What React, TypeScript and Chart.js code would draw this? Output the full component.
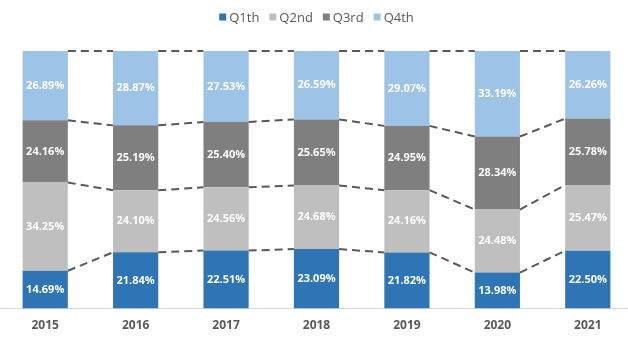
import React, { useEffect, useRef } from "react";
import { Chart, registerables } from "chart.js";

Chart.register(...registerables);

const years = ["2015", "2016", "2017", "2018", "2019", "2020", "2021"];
const q1 = [14.69, 21.84, 22.51, 23.09, 21.82, 13.98, 22.5];
const q2 = [34.25, 24.1, 24.56, 24.68, 24.16, 24.48, 25.47];
const q3 = [24.16, 25.19, 25.4, 25.65, 24.95, 28.34, 25.78];
const q4 = [26.89, 28.87, 27.53, 26.59, 29.07, 33.19, 26.26];
const seriesNames = ["Q1th", "Q2nd", "Q3rd", "Q4th"];
const seriesColors = ["#2E75B6", "#BFBFBF", "#7F7F7F", "#9DC3E6"];

const FONT = "'Open Sans', 'Noto Sans', sans-serif";

const connectorPlugin = {
  id: "connectors",
  afterDatasetsDraw(chart: any) {
    const ctx = chart.ctx;
    ctx.save();
    ctx.strokeStyle = "#595959";
    ctx.lineWidth = 2;
    ctx.setLineDash([8, 5]);
    chart.data.datasets.forEach((_ds: any, di: number) => {
      const meta = chart.getDatasetMeta(di);
      if (meta.hidden) return;
      for (let i = 0; i < meta.data.length - 1; i++) {
        const a = meta.data[i].getProps(["x", "y", "width"], true);
        const b = meta.data[i + 1].getProps(["x", "y", "width"], true);
        ctx.beginPath();
        ctx.moveTo(a.x + a.width / 2, a.y);
        ctx.lineTo(b.x - b.width / 2, b.y);
        ctx.stroke();
      }
    });
    ctx.restore();
  },
};

const labelPlugin = {
  id: "segLabels",
  afterDatasetsDraw(chart: any) {
    const ctx = chart.ctx;
    ctx.save();
    ctx.fillStyle = "#FFFFFF";
    ctx.font = `bold 11px ${FONT}`;
    ctx.textAlign = "center";
    ctx.textBaseline = "middle";
    chart.data.datasets.forEach((ds: any, di: number) => {
      const meta = chart.getDatasetMeta(di);
      if (meta.hidden) return;
      meta.data.forEach((el: any, i: number) => {
        const p = el.getProps(["x", "y", "base"], true);
        const v = ds.data[i] as number;
        ctx.fillText(v.toFixed(2) + "%", p.x, (p.y + p.base) / 2);
      });
    });
    ctx.restore();
  },
};

// Compact legend drawn at the top, centred over the plot area
const legendPlugin = {
  id: "compactLegend",
  afterDraw(chart: any) {
    const ctx = chart.ctx;
    const area = chart.chartArea;
    const box = 7;
    const boxGap = 3;
    const itemGap = 10;
    const cy = 17;
    ctx.save();
    ctx.font = `13px ${FONT}`;
    ctx.textBaseline = "middle";
    ctx.textAlign = "left";
    const items = chart.data.datasets.map((ds: any) => ({
      text: ds.label as string,
      color: ds.backgroundColor as string,
      w: ctx.measureText(ds.label).width,
    }));
    const total =
      items.reduce((s: number, it: any) => s + box + boxGap + it.w, 0) +
      itemGap * (items.length - 1);
    let x = (area.left + area.right) / 2 - total / 2;
    items.forEach((it: any) => {
      ctx.fillStyle = it.color;
      ctx.fillRect(x, cy - box / 2, box, box);
      ctx.fillStyle = "#595959";
      ctx.fillText(it.text, x + box + boxGap, cy + 1);
      x += box + boxGap + it.w + itemGap;
    });
    ctx.restore();
  },
};

export default function App() {
  const ref = useRef<HTMLCanvasElement | null>(null);
  useEffect(() => {
    if (!ref.current) return;
    const values = [q1, q2, q3, q4];
    const chart = new Chart(ref.current, {
      type: "bar",
      data: {
        labels: years,
        datasets: values.map((v, i) => ({
          label: seriesNames[i],
          data: v,
          backgroundColor: seriesColors[i],
          borderWidth: 0,
          barPercentage: 1,
          categoryPercentage: 0.5,
        })),
      },
      options: {
        responsive: false,
        animation: false,
        layout: { padding: { top: 51, bottom: 12, left: 0, right: 0 } },
        plugins: {
          legend: { display: false },
          tooltip: { enabled: false },
        },
        scales: {
          x: {
            stacked: true,
            grid: { display: false, drawTicks: false },
            border: { display: true, color: "#D9D9D9", width: 1 },
            ticks: {
              padding: 10,
              color: "#595959",
              font: { family: FONT, size: 12, weight: "bold" },
            },
          },
          y: {
            stacked: true,
            display: false,
            min: 0,
            max: 100,
          },
        },
      },
      plugins: [connectorPlugin, labelPlugin, legendPlugin],
    });
    return () => chart.destroy();
  }, []);
  return (
    <div
      style={{
        position: "absolute",
        left: 0,
        top: 0,
        width: 628,
        height: 355,
        overflow: "hidden",
        background: "#FFFFFF",
      }}
    >
      <canvas ref={ref} width={633} height={355} style={{ display: "block" }} />
    </div>
  );
}
